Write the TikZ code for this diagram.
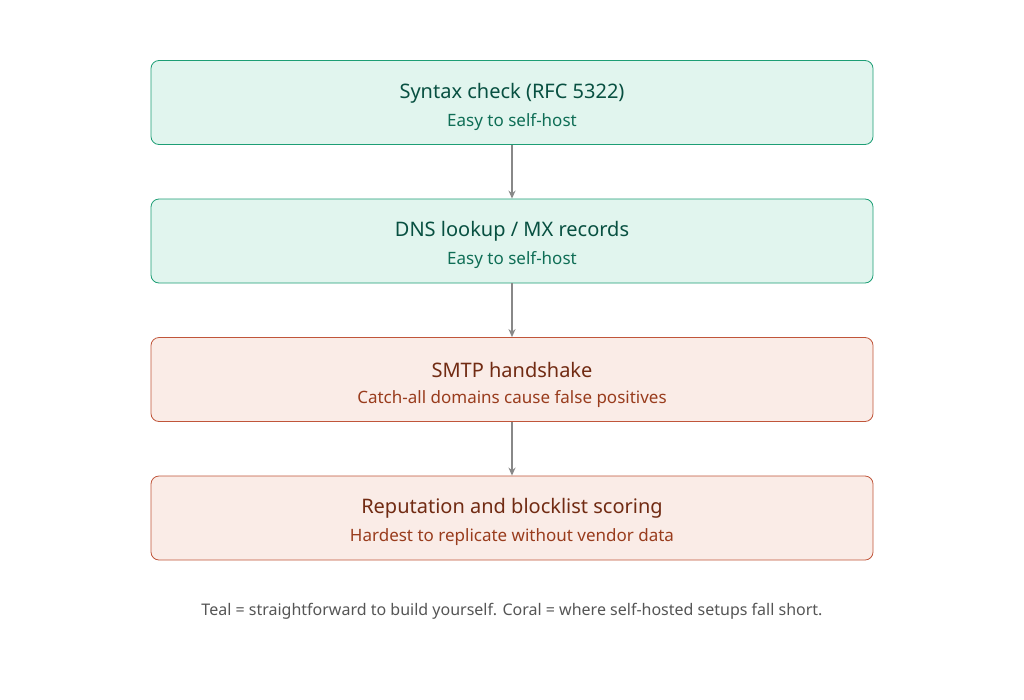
\documentclass[tikz,border=0pt]{standalone}
\usepackage{fontspec}
\setmainfont{Noto Sans}
\usetikzlibrary{arrows.meta}
\definecolor{tfill}{HTML}{E1F5EE}\definecolor{tdraw}{HTML}{1D9E75}
\definecolor{ttit}{HTML}{085041}\definecolor{tsub}{HTML}{0F6E56}
\definecolor{cfill}{HTML}{FAECE7}\definecolor{cdraw}{HTML}{C0553A}
\definecolor{ctit}{HTML}{712B13}\definecolor{csub}{HTML}{993C1D}
\definecolor{arr}{HTML}{888888}\definecolor{cap}{HTML}{555555}
\begin{document}
\begin{tikzpicture}[x=1pt,y=-1pt,
 tbox/.style={draw=tdraw,fill=tfill,rounded corners=8pt,minimum width=722pt,minimum height=84pt,line width=0.8pt},
 cbox/.style={draw=cdraw,fill=cfill,rounded corners=8pt,minimum width=722pt,minimum height=84pt,line width=0.8pt},
 tit/.style={font=\fontsize{20}{24}\selectfont\bfseries\mdseries},
 conn/.style={draw=arr,line width=1.5pt,-{Stealth[length=8pt,width=7pt]}}]
\useasboundingbox[fill=white] (0,0) rectangle (1024,699);
\node[tbox] (a) at (512,102.5) {};
\node[tbox] (b) at (512,241) {};
\node[cbox] (c) at (512,379.5) {};
\node[cbox] (d) at (512,518) {};
\node[text=ttit,font=\fontsize{20}{24}\selectfont\bfseries] (a1) at (512,93) {Syntax check (RFC 5322)};
\node[text=tsub,font=\fontsize{17}{20}\selectfont] (a2) at (512,122) {Easy to self-host};
\node[text=ttit,font=\fontsize{20}{24}\selectfont\bfseries] (b1) at (512,231) {DNS lookup / MX records};
\node[text=tsub,font=\fontsize{17}{20}\selectfont] (b2) at (512,260) {Easy to self-host};
\node[text=ctit,font=\fontsize{20}{24}\selectfont\bfseries] (c1) at (512,370) {SMTP handshake};
\node[text=csub,font=\fontsize{17}{20}\selectfont] (c2) at (512,399) {Catch-all domains cause false positives};
\node[text=ctit,font=\fontsize{20}{24}\selectfont\bfseries] (d1) at (512,508) {Reputation and blocklist scoring};
\node[text=csub,font=\fontsize{17}{20}\selectfont] (d2) at (512,537) {Hardest to replicate without vendor data};
\draw[conn] (a.south) -- (b.north);
\draw[conn] (b.south) -- (c.north);
\draw[conn] (c.south) -- (d.north);
\node[text=cap,font=\fontsize{16}{20}\selectfont] (cap) at (512,611) {Teal = straightforward to build yourself. Coral = where self-hosted setups fall short.};
\end{tikzpicture}
\end{document}
